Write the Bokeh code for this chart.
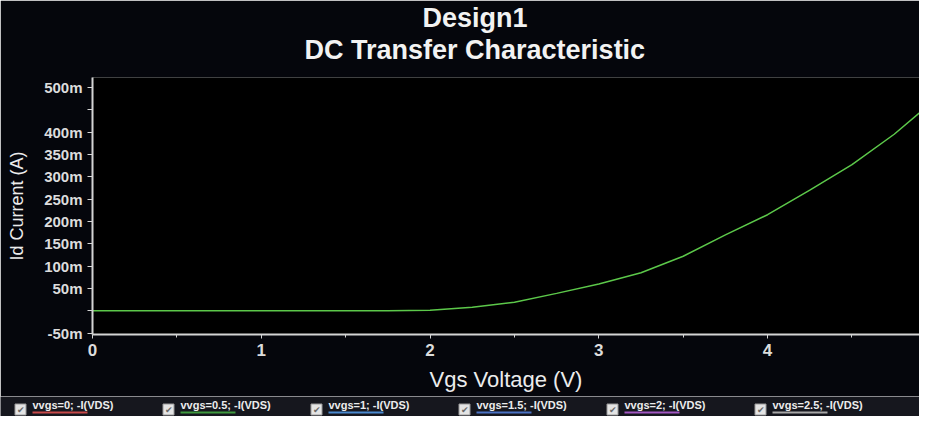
from bokeh.plotting import figure
from bokeh.models import Range1d, FixedTicker, Title, ColumnDataSource
from bokeh.layouts import column
from bokeh.embed import file_html
from bokeh.resources import INLINE
from bokeh.core.properties import value

# ---- data ----
vgs = [0.0, 0.25, 0.5, 0.75, 1.0, 1.25, 1.5, 1.75, 2.0, 2.25, 2.5, 2.75,
       3.0, 3.25, 3.5, 3.75, 4.0, 4.25, 4.5, 4.75, 5.0]
id_current = [0.0, 0.0, 0.0, 0.0, 0.0, 0.0, 0.0, 0.0, 0.001, 0.008, 0.019, 0.039,
              0.060, 0.085, 0.122, 0.170, 0.215, 0.270, 0.327, 0.395, 0.475]

y_ticks = [-0.05, 0.0, 0.05, 0.1, 0.15, 0.2, 0.25, 0.3, 0.35, 0.4, 0.45, 0.5]
y_tick_labels = ["-50m", "", "50m", "100m", "150m", "200m", "250m", "300m",
                 "350m", "400m", "", "500m"]
x_ticks = [0, 1, 2, 3, 4, 5]
x_minor_ticks = [0.5, 1.5, 2.5, 3.5, 4.5]

legend_labels = ["vvgs=0; -I(VDS)", "vvgs=0.5; -I(VDS)", "vvgs=1; -I(VDS)",
                 "vvgs=1.5; -I(VDS)", "vvgs=2; -I(VDS)", "vvgs=2.5; -I(VDS)"]
legend_colors = ["#c84a4a", "#3f9a3f", "#4a8ad0", "#4a72c4", "#a257c2", "#a8a8a8"]

title_main = "Design1"
title_sub = "DC Transfer Characteristic"
x_label = "Vgs Voltage (V)"
y_label = "Id Current (A)"

FONT = "Liberation Sans"
W = 919

p = figure(width=W, height=396, output_backend="svg", toolbar_location=None,
           x_range=Range1d(0, 4.9), y_range=Range1d(-0.053, 0.522),
           min_border_left=92, min_border_right=0, min_border_top=75,
           min_border_bottom=62,
           background_fill_color="#000000", border_fill_color="#05060c",
           outline_line_color=None)
p.frame_align = False

p.line(vgs, id_current, line_color="#5cc84a", line_width=1.5)

p.xgrid.visible = False
p.ygrid.visible = False

for ax in (p.xaxis[0], p.yaxis[0]):
    ax.axis_line_color = "#d4d4d4"
    ax.axis_line_width = 2
    ax.major_tick_line_color = "#d4d4d4"
    ax.minor_tick_line_color = "#d4d4d4"
    ax.major_tick_in = 0
    ax.minor_tick_in = 0
    ax.major_label_text_color = "#dcdcdc"
    ax.major_label_text_font = FONT
    ax.major_label_text_font_style = "bold"
    ax.axis_label_text_color = "#ececec"
    ax.axis_label_text_font = FONT
    ax.axis_label_text_font_style = "normal"

p.xaxis.ticker = FixedTicker(ticks=x_ticks, minor_ticks=x_minor_ticks)
p.xaxis.major_tick_out = 4
p.xaxis.minor_tick_out = 3
p.xaxis.major_label_text_font_size = "17px"
p.xaxis.major_label_standoff = 5
p.xaxis.axis_label = x_label
p.xaxis.axis_label_text_font_size = "22px"
p.xaxis.axis_label_standoff = 8

p.yaxis.ticker = FixedTicker(ticks=y_ticks, minor_ticks=[])
p.yaxis.major_label_overrides = dict(zip(y_ticks, y_tick_labels))
p.yaxis.major_tick_out = 5
p.yaxis.major_label_text_font_size = "15px"
p.yaxis.major_label_standoff = 5
p.yaxis.axis_label = y_label
p.yaxis.axis_label_text_font_size = "18px"
p.yaxis.axis_label_standoff = 14

# spacer between the frame and the two title lines
p.add_layout(Title(text=" ", text_font_size="10px", standoff=0), "above")
p.add_layout(Title(text=title_sub, align="left", offset=212,
                   text_font_size="27px", text_color="#f2f2f2",
                   text_font=FONT, text_font_style="bold", standoff=0), "above")
p.add_layout(Title(text=title_main, align="left", offset=330,
                   text_font_size="27px", text_color="#f2f2f2",
                   text_font=FONT, text_font_style="bold", standoff=0), "above")

# ---- legend strip ----
leg = figure(width=W, height=20, output_backend="svg", toolbar_location=None,
             x_range=Range1d(0, W), y_range=Range1d(20, 0),
             min_border=0, background_fill_color="#16171e",
             border_fill_color="#16171e", outline_line_color=None)
leg.frame_align = False
leg.axis.visible = False
leg.grid.visible = False

n = len(legend_labels)
text_x = [32 + i * 148 for i in range(n)]
box_x = [t - 12 for t in text_x]
src = ColumnDataSource(dict(bx=box_x, tx=text_x, tx1=[t + 55 for t in text_x],
                            label=legend_labels, color=legend_colors,
                            check=["\u2714"] * n))
leg.rect(x="bx", y=13, width=11, height=11, width_units="screen",
         height_units="screen", fill_color="#e4e4e4", line_color="#9a9a9a",
         source=src)
leg.text(x="bx", y=13, text="check", text_color="#6a6a6a", text_font_size="9px",
         text_align="center", text_baseline="middle", source=src)
leg.text(x="tx", y=8, text="label", text_color="#ececec",
         text_font=value(FONT), text_font_style="bold", text_font_size="11px",
         text_baseline="middle", source=src)
leg.segment(x0="tx", x1="tx1", y0=16, y1=16, line_color="color", line_width=2,
            source=src)

layout = column(p, leg, spacing=0)
open("out.html", "w").write(file_html(layout, INLINE))
